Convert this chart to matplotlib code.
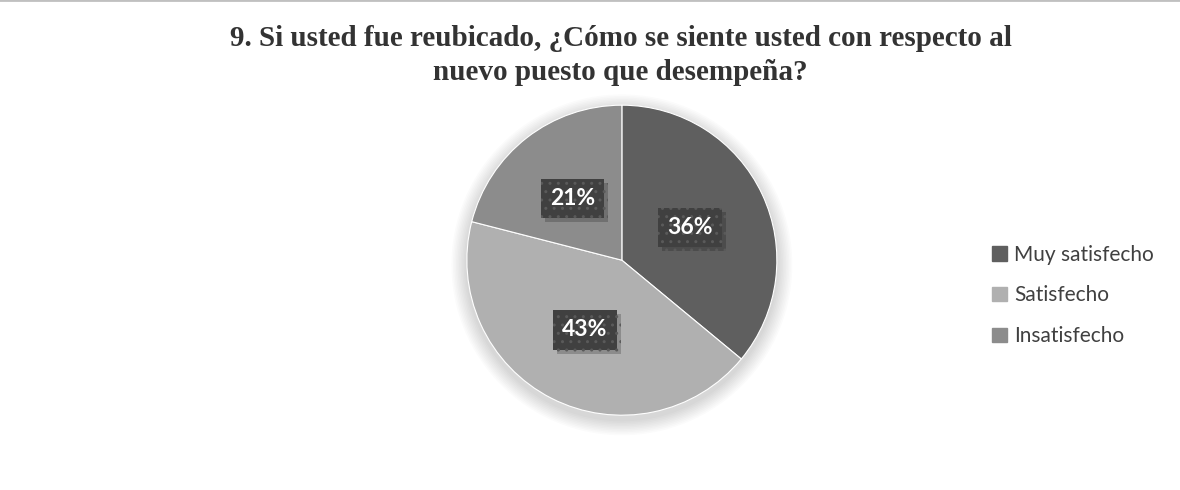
import matplotlib.pyplot as plt
import matplotlib.patches as mpatches
import matplotlib.patheffects as pe

categories = ["Muy satisfecho", "Satisfecho", "Insatisfecho"]
values = [36, 43, 21]
colors = ["#5f5f5f", "#b0b0b0", "#8c8c8c"]
title = "9. Si usted fue reubicado, ¿Cómo se siente usted con respecto al\nnuevo puesto que desempeña?"

fig = plt.figure(figsize=(11.8, 4.9), dpi=100)
fig.patch.set_facecolor("white")

# thin grey line at top
fig.add_artist(plt.Line2D([0, 1], [0.999, 0.999], color="#c0c0c0", lw=2))

lim = 1.15
h = 2 * lim * 155 / 490
w = 2 * lim * 155 / 1180
ax = fig.add_axes([0.527 - w / 2, 0.469 - h / 2, w, h])

# soft shadow
for i in range(10):
    r = 1.0 + 0.01 * (i + 1)
    ax.add_patch(mpatches.Circle((0.0, -0.03), r, color="black",
                                 alpha=0.015, lw=0, zorder=0))

wedges, _ = ax.pie(values, colors=colors, startangle=90, counterclock=False,
                   radius=1.0, wedgeprops=dict(edgecolor="white", linewidth=0.8))

label_pos = [(0.44, 0.21), (-0.24, -0.45), (-0.32, 0.40)]
for (x, y), v in zip(label_pos, values):
    t = ax.text(x, y, "%d%%" % v, fontsize=16.5, fontweight="bold", family="Lato",
                color="white", ha="center", va="center",
                bbox=dict(boxstyle="square,pad=0.4", fc="#404040",
                          ec="#5a5a5a", lw=0, hatch=".."))
    t.get_bbox_patch().set_path_effects(
        [pe.SimplePatchShadow(offset=(3, -3), shadow_rgbFace="black", alpha=0.2),
         pe.Normal()])

ax.set_xlim(-lim, lim)
ax.set_ylim(-lim, lim)
ax.set_aspect("equal")

fig.text(0.526, 0.825, title, ha="center", va="bottom", fontsize=21,
         fontweight="bold", family="Liberation Serif", color="#333333",
         linespacing=1.3)

handles = [mpatches.Patch(color=c) for c in colors]
leg = fig.legend(handles, categories, loc="center left",
                 bbox_to_anchor=(0.825, 0.397), frameon=False,
                 prop=dict(family="Lato", size=15), labelcolor="#404040",
                 handlelength=0.7, handleheight=0.7, handletextpad=0.35,
                 labelspacing=1.0)

fig.savefig("out.png", dpi=100, facecolor="white")
